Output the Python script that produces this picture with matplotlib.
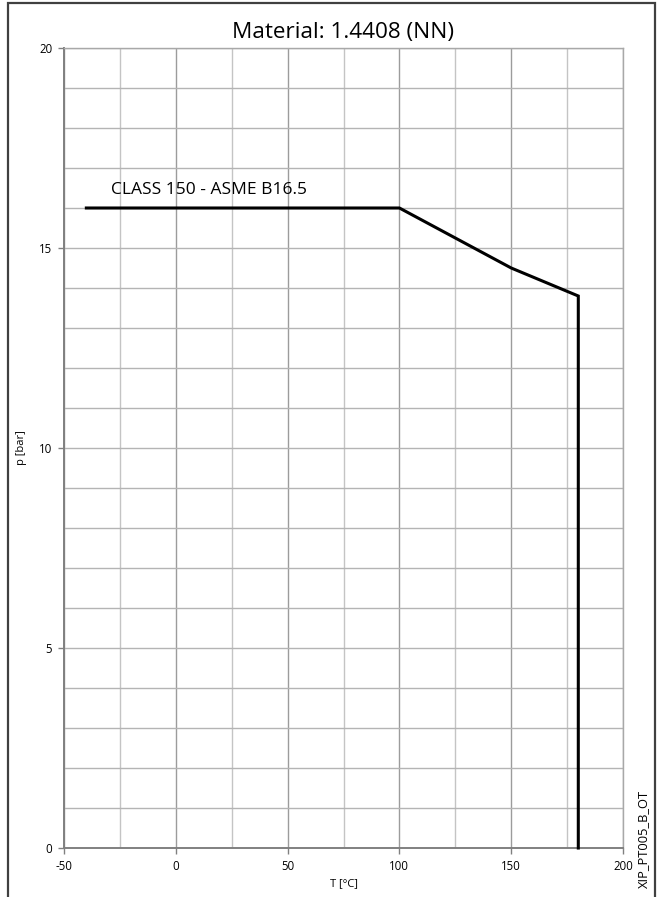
import matplotlib.pyplot as plt
from matplotlib.patches import Rectangle
from matplotlib.ticker import MultipleLocator

# Kurvendaten (Temperatur / Druck)
temp = [-40, 100, 150, 180, 180]
press = [16.0, 16.0, 14.5, 13.8, 0.0]

title = "Material: 1.4408 (NN)"
curve_label = "CLASS 150 - ASME B16.5"
doc_id = "XIP_PT005_B_OT"

plt.rcParams['font.family'] = ['Open Sans', 'DejaVu Sans']
plt.rcParams['axes.unicode_minus'] = False

fig = plt.figure(figsize=(6.63, 8.97), dpi=100)
ax = fig.add_axes([0.0965, 0.0546, 0.8432, 0.8919])

ax.set_xlim(-50, 200)
ax.set_ylim(0, 20)
ax.xaxis.set_major_locator(MultipleLocator(50))
ax.xaxis.set_minor_locator(MultipleLocator(25))
ax.yaxis.set_major_locator(MultipleLocator(5))
ax.yaxis.set_minor_locator(MultipleLocator(1))

ax.grid(which='major', axis='x', color='#9c9c9c', lw=1.0)
ax.grid(which='minor', axis='x', color='#c4c4c4', lw=1.0)
ax.grid(which='both', axis='y', color='#b4b4b4', lw=1.0)
ax.set_axisbelow(True)
ax.tick_params(which='major', length=4, width=1.0, color='#808080',
               labelsize=8.3, pad=4.5)
ax.tick_params(which='minor', length=0)

for side in ['top', 'right']:
    ax.spines[side].set_color('#a8a8a8')
    ax.spines[side].set_linewidth(1.0)
for side in ['left', 'bottom']:
    ax.spines[side].set_color('#808080')
    ax.spines[side].set_linewidth(1.4)

ax.plot(temp, press, color='black', lw=2.2, solid_joinstyle='miter',
        clip_on=False, zorder=3)
ax.text(-28.8, 16.25, curve_label, fontsize=12.5, ha='left', va='bottom')

ax.set_xlabel('T [°C]', fontsize=8)
ax.set_ylabel('p [bar]', fontsize=8)
ax.xaxis.set_label_coords(0.5, -0.0375)
ax.yaxis.set_label_coords(-0.066, 0.5)

fig.text(0.518, 0.964, title, fontsize=16.2, ha='center', va='center')
fig.text(0.970, 0.010, doc_id, fontsize=9.3, rotation=90,
         ha='center', va='bottom')

# Rahmen um das Blatt
fig.patches.append(Rectangle((8 / 663, -0.05), 647 / 663, 1.05 - 3 / 897,
                             transform=fig.transFigure, fill=False,
                             edgecolor='#404040', lw=1.6))

fig.savefig('out.png', dpi=100)
